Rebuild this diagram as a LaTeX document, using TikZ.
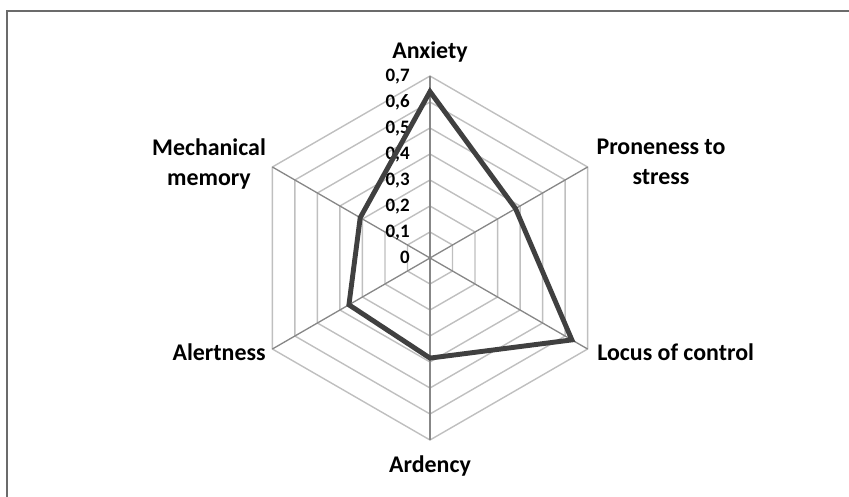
\documentclass[tikz,border=0pt]{standalone}
\usepackage{fontspec}
\setmainfont{Carlito}
\definecolor{ringgray}{HTML}{BFBFBF}
\definecolor{spokegray}{HTML}{878787}
\definecolor{seriesgray}{HTML}{404040}
\definecolor{framegray}{HTML}{6B6B6B}
\tikzset{
  ring/.style={draw=ringgray, line width=0.8pt},
  spoke/.style={draw=spokegray, line width=0.75pt},
  series/.style={draw=seriesgray, line width=2.8pt},
  frame/.style={draw=framegray, line width=1.2pt},
  axislabel/.style={font=\fontsize{13.6}{16.8}\selectfont\bfseries, inner sep=0pt, align=center},
  ticklabel/.style={font=\fontsize{10.8}{13}\selectfont\bfseries, inner sep=0pt, anchor=base east}
}

\begin{document}
\begin{tikzpicture}[x=0.02cm, y=0.02cm]
\useasboundingbox (-430,-239) rectangle (419,258);
\draw[frame] (-423,-239) -- (-423,247) -- (419,247);
% rings, one per 0.1
\foreach \r in {1,...,7}
\draw[ring] (90:\r*26) \foreach \a in {30,-30,-90,-150,150} { -- (\a:\r*26) } -- cycle;
\foreach \a in {90,30,-30,-90,-150,150}
\draw[spoke] (0,0) -- (\a:182);
% scale on the vertical axis
\foreach \i in {0,...,7}
\node[ticklabel] (t\i) at (-20,\i*26-5.8) {\ifnum\i=0 0\else 0,\i\fi};
% data
\foreach \a/\v [count=\k] in {90/0.64, 30/0.38, -30/0.63, -90/0.385, -150/0.36, 150/0.31}
\coordinate (d\k) at (\a:\v*260);
\draw[series] (d1) -- (d2) -- (d3) -- (d4) -- (d5) -- (d6) -- cycle;
% category names
\node[axislabel, anchor=base] (anx) at (0,199) {Anxiety};
\node[axislabel] (pro) at (231,96) {Proneness to\\stress};
\node[axislabel, anchor=base west] (loc) at (167,-102) {Locus of control};
\node[axislabel, anchor=base] (ard) at (0,-214) {Ardency};
\node[axislabel, anchor=base east] (ale) at (-164,-102) {Alertness};
\node[axislabel] (mec) at (-221,94) {Mechanical\\memory};
\end{tikzpicture}
\end{document}
